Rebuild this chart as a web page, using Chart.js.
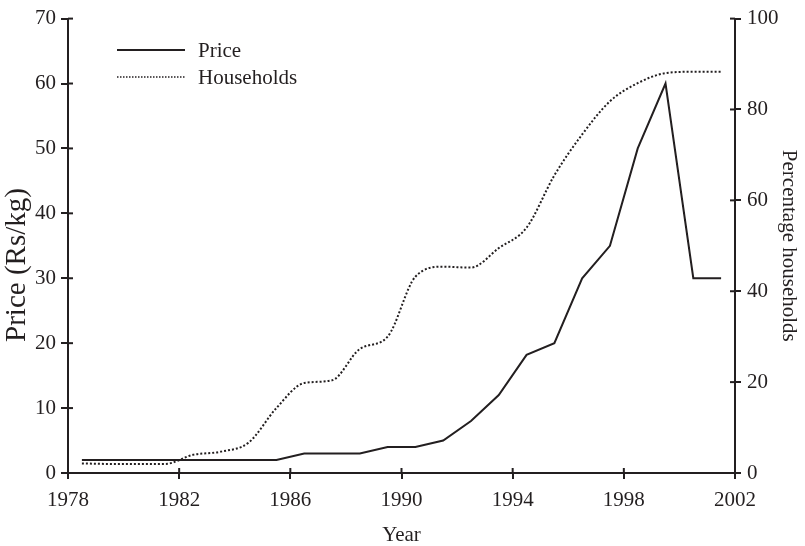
<!DOCTYPE html>
<html lang="en">
<head>
<meta charset="UTF-8">
<title>Price and households</title>
<style>
  html, body { margin: 0; padding: 0; background: #fff; }
</style>
</head>
<body>
<canvas id="chart" width="805" height="546"></canvas>

<script src="https://cdn.jsdelivr.net/npm/chart.js@4.4.1/dist/chart.umd.min.js"></script>
<script>
// mid-year observations
const years = [1978.5, 1979.5, 1980.5, 1981.5, 1982.5, 1983.5, 1984.5, 1985.5,
               1986.5, 1987.5, 1988.5, 1989.5, 1990.5, 1991.5, 1992.5, 1993.5,
               1994.5, 1995.5, 1996.5, 1997.5, 1998.5, 1999.5, 2000.5, 2001.5];

// Rs/kg, left axis
const price = [2, 2, 2, 2, 2, 2, 2, 2,
               3, 3, 3, 4, 4, 5, 8, 12,
               18.2, 20, 30, 35, 50, 60, 30, 30];

// percentage of households, right axis
const households = [2.1, 2, 2, 2, 4, 4.7, 6.7, 14.3,
                    19.8, 20.4, 27.3, 30, 43.2, 45.4, 45.2, 49.5,
                    54, 65.5, 74.5, 81.8, 85.8, 88, 88.3, 88.3];

const xTicks = [1978, 1982, 1986, 1990, 1994, 1998, 2002];
const priceTitle = 'Price (Rs/kg)';

const ink = '#231f20';
const serif = 'Liberation Serif';

const points = (vals) => years.map((yr, i) => ({ x: yr, y: vals[i] }));

// short tick marks pointing into the plot, the library only draws them outside
const innerTicks = {
  id: 'innerTicks',
  afterDraw(chart) {
    const { ctx, chartArea: a, scales } = chart;
    const len = 5;
    ctx.save();
    ctx.strokeStyle = ink;
    ctx.lineWidth = 2;
    scales.x.ticks.forEach((t, i) => {
      const px = scales.x.getPixelForTick(i);
      ctx.beginPath(); ctx.moveTo(px, a.bottom); ctx.lineTo(px, a.bottom - len); ctx.stroke();
    });
    scales.y.ticks.forEach((t, i) => {
      const py = scales.y.getPixelForTick(i);
      ctx.beginPath(); ctx.moveTo(a.left, py); ctx.lineTo(a.left + len, py); ctx.stroke();
    });
    scales.y1.ticks.forEach((t, i) => {
      const py = scales.y1.getPixelForTick(i);
      ctx.beginPath(); ctx.moveTo(a.right, py); ctx.lineTo(a.right - len, py); ctx.stroke();
    });
    ctx.restore();
  }
};

// left title is set larger and a bit lower than the axis middle in the original
const leftTitle = {
  id: 'leftTitle',
  afterDraw(chart) {
    const ctx = chart.ctx;
    ctx.save();
    ctx.translate(17, 265);
    ctx.rotate(-Math.PI / 2);
    ctx.font = '29px "' + serif + '"';
    ctx.fillStyle = ink;
    ctx.textAlign = 'center';
    ctx.textBaseline = 'middle';
    ctx.fillText(priceTitle, 0, 0);
    ctx.restore();
  }
};

// legend drawn inside the plot, top left
const lineLegend = {
  id: 'lineLegend',
  afterDraw(chart) {
    const ctx = chart.ctx;
    ctx.save();
    ctx.font = '21px "' + serif + '"';
    ctx.fillStyle = ink;
    ctx.textBaseline = 'middle';
    chart.data.datasets.forEach((ds, i) => {
      const y = 50 + i * 27;
      ctx.strokeStyle = ink;
      ctx.lineWidth = ds.borderDash ? 1.5 : 2;
      ctx.setLineDash(ds.borderDash ? [1.5, 1.5] : []);
      ctx.beginPath(); ctx.moveTo(117, y); ctx.lineTo(185, y); ctx.stroke();
      ctx.setLineDash([]);
      ctx.fillText(ds.label, 198, y + 1);
    });
    ctx.restore();
  }
};

const config = {
  type: 'line',
  data: {
    datasets: [
      {
        label: 'Price',
        data: points(price),
        yAxisID: 'y',
        borderColor: ink,
        borderWidth: 2,
        pointRadius: 0,
        tension: 0
      },
      {
        label: 'Households',
        data: points(households),
        yAxisID: 'y1',
        borderColor: ink,
        borderWidth: 2,
        borderDash: [2, 2],
        pointRadius: 0,
        cubicInterpolationMode: 'monotone'
      }
    ]
  },
  options: {
    responsive: false,
    animation: false,
    layout: { padding: { top: 15, left: 0, right: 0, bottom: 0 } },
    plugins: {
      legend: { display: false },
      tooltip: { enabled: false }
    },
    scales: {
      x: {
        type: 'linear',
        min: 1978,
        max: 2002,
        afterBuildTicks: (scale) => { scale.ticks = xTicks.map(v => ({ value: v })); },
        afterFit: (scale) => { scale.height = 73; },
        border: { color: ink, width: 2 },
        grid: { drawOnChartArea: false, color: ink, lineWidth: 2, tickLength: 6 },
        ticks: {
          color: ink,
          font: { family: serif, size: 21 },
          padding: 9,
          maxRotation: 0,
          callback: (v) => String(v)
        },
        title: {
          display: true,
          text: 'Year',
          color: ink,
          font: { family: serif, size: 21, lineHeight: 1 },
          padding: { top: 0, bottom: 0 }
        }
      },
      y: {
        position: 'left',
        min: 0,
        max: 70,
        afterFit: (scale) => { scale.width = 68; },
        border: { color: ink, width: 2 },
        grid: { drawOnChartArea: false, color: ink, lineWidth: 2, tickLength: 7 },
        ticks: {
          stepSize: 10,
          color: ink,
          font: { family: serif, size: 21 },
          padding: 5
        },
        title: { display: false }
      },
      y1: {
        position: 'right',
        min: 0,
        max: 100,
        afterFit: (scale) => { scale.width = 70; },
        border: { color: ink, width: 2 },
        grid: { drawOnChartArea: false, color: ink, lineWidth: 2, tickLength: 6 },
        ticks: {
          stepSize: 20,
          color: ink,
          font: { family: serif, size: 21 },
          padding: 6
        },
        title: {
          display: true,
          text: 'Percentage households',
          color: ink,
          font: { family: serif, size: 21 },
          padding: { top: 4, bottom: 0 }
        }
      }
    }
  },
  plugins: [innerTicks, leftTitle, lineLegend]
};

new Chart(document.getElementById('chart').getContext('2d'), config);
</script>
</body>
</html>
